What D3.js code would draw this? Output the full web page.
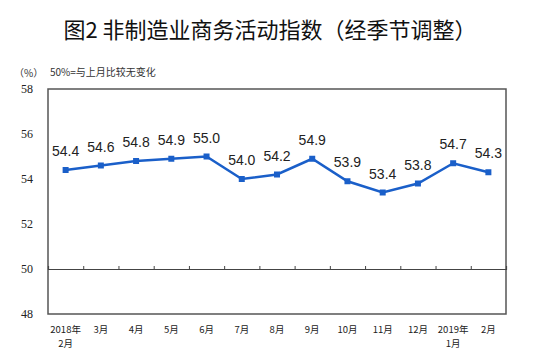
<!DOCTYPE html>
<html><head><meta charset="utf-8">
<script src="https://cdn.jsdelivr.net/npm/d3@7"></script>
<style>body{margin:0;background:#fff}svg{display:block}</style>
</head><body>
<script>
const title = "图2 非制造业商务活动指数（经季节调整）";
const unitLabel = "（%）";
const note = "50%=与上月比较无变化";
const categories = [["2018年","2月"],["3月"],["4月"],["5月"],["6月"],["7月"],["8月"],["9月"],["10月"],["11月"],["12月"],["2019年","1月"],["2月"]];
const values = [54.4,54.6,54.8,54.9,55.0,54.0,54.2,54.9,53.9,53.4,53.8,54.7,54.3];
const yTicks = [48,50,52,54,56,58];

const W=550,H=358;
const svg=d3.select("body").append("svg").attr("width",W).attr("height",H);
const m={l:48,r:506,t:89,b:314};
const x=d3.scaleBand().domain(d3.range(categories.length)).range([m.l,m.r]);
const y=d3.scaleLinear().domain([48,58]).range([m.b,m.t]);

svg.append("text").attr("x",270).attr("y",38).attr("text-anchor","middle")
  .attr("font-family","'Noto Sans CJK SC'").attr("font-size",22).attr("font-weight",400)
  .attr("fill","#111").text(title);
svg.append("text").attr("x",14).attr("y",77).attr("font-family","'Noto Sans CJK SC'")
  .attr("font-size",10).attr("fill","#333").text(unitLabel);
svg.append("text").attr("x",50).attr("y",76).attr("font-family","'Noto Sans CJK SC'")
  .attr("font-size",10).attr("fill","#333").text(note);

// frame
svg.append("rect").attr("x",m.l).attr("y",m.t).attr("width",m.r-m.l).attr("height",m.b-m.t)
  .attr("fill","none").attr("stroke","#555").attr("stroke-width",1.5);

// y labels
const ya=svg.append("g").attr("transform",`translate(${m.l},0)`)
  .call(d3.axisLeft(y).tickValues(yTicks).tickSize(0).tickPadding(15));
ya.select(".domain").remove();
ya.selectAll("text").attr("font-family","'Liberation Serif',serif").attr("font-size",12)
  .attr("fill","#222");

// 50 line with upward ticks at category boundaries
const bounds=d3.range(1,categories.length).map(i=>x(i));
const xa=svg.append("g").attr("transform",`translate(0,${y(50)})`)
  .call(d3.axisTop(d3.scaleLinear().domain([m.l,m.r]).range([m.l,m.r])).tickValues(bounds).tickSize(3).tickFormat(""));
xa.select(".domain").attr("stroke","#444").attr("stroke-width",1.2);
xa.selectAll(".tick line").attr("stroke","#444");

// x labels
const cx=i=>x(i)+x.bandwidth()/2;
categories.forEach((c,i)=>{
  c.forEach((s,j)=>svg.append("text").attr("x",cx(i)).attr("y",333+j*14)
    .attr("text-anchor","middle").attr("font-family","'Noto Sans CJK SC'").attr("font-size",9.5)
    .attr("fill","#222").text(s));
});

// line
svg.append("path").datum(values).attr("fill","none").attr("stroke","#1a5fc9").attr("stroke-width",2.5)
  .attr("d",d3.line().x((d,i)=>cx(i)).y(d=>y(d)));
svg.selectAll("rect.mk").data(values).enter().append("rect").attr("class","mk")
  .attr("x",(d,i)=>cx(i)-3).attr("y",d=>y(d)-3).attr("width",6).attr("height",6).attr("fill","#1a5fc9");
svg.selectAll("text.lb").data(values).enter().append("text").attr("class","lb")
  .attr("x",(d,i)=>cx(i)).attr("y",d=>y(d)-14).attr("text-anchor","middle")
  .attr("font-family","'Liberation Sans',Arial").attr("font-size",14).attr("fill","#222")
  .text(d=>d.toFixed(1));
</script>
</body></html>
